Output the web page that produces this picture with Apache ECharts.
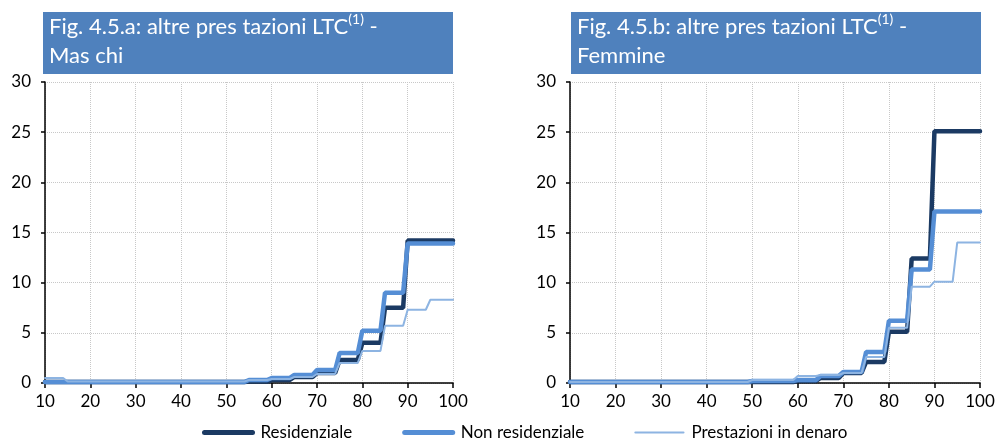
<!DOCTYPE html>
<html><head><meta charset="utf-8">
<script src="https://cdn.jsdelivr.net/npm/echarts@6/dist/echarts.min.js"></script>
<style>html,body{margin:0;padding:0;background:#fff}#c{width:998px;height:440px}</style>
</head><body><div id="c"></div>
<script>
// Age bands (5-year classes; last class 95-100)
const bandStart = [10,15,20,25,30,35,40,45,50,55,60,65,70,75,80,85,90,95];
const bandEnd   = [14,19,24,29,34,39,44,49,54,59,64,69,74,79,84,89,94,100];
const seriesNames = ['Residenziale','Non residenziale','Prestazioni in denaro'];
const xTicks = [10,20,30,40,50,60,70,80,90,100];
const yTicks = [0,5,10,15,20,25,30];
// Maschi
const resM = [0.1,0.1,0.1,0.1,0.1,0.1,0.1,0.1,0.1,0.15,0.3,0.6,1.0,2.3,4.0,7.5,14.2,14.2];
const nonM = [0.1,0.1,0.1,0.1,0.1,0.1,0.1,0.1,0.1,0.3,0.5,0.8,1.3,3.0,5.2,9.0,13.9,13.9];
const denM = [0.5,0.15,0.15,0.15,0.15,0.15,0.15,0.15,0.15,0.3,0.4,0.6,0.9,2.0,3.2,5.7,7.3,8.3];
// Femmine
const resF = [0.1,0.1,0.1,0.1,0.1,0.1,0.1,0.1,0.1,0.1,0.2,0.5,1.0,2.1,5.1,12.4,25.1,25.1];
const nonF = [0.1,0.1,0.1,0.1,0.1,0.1,0.1,0.1,0.2,0.2,0.3,0.7,1.1,3.1,6.2,11.3,17.1,17.1];
const denF = [0.1,0.1,0.1,0.1,0.1,0.1,0.1,0.1,0.3,0.3,0.7,0.8,1.0,2.6,5.5,9.6,10.1,14.0];

function steps(vals){
  const out=[];
  for(let i=0;i<bandStart.length;i++){ out.push([bandStart[i],vals[i]]); out.push([bandEnd[i],vals[i]]); }
  return out;
}
const colors=['#1B3A63','#558ED5','#8DB4E2'];
const widths=[4.5,4.5,2];
const font='Lato, "Open Sans", sans-serif';

function mkX(idx){return {type:'value',gridIndex:idx,min:10,max:100,interval:10,
  axisLine:{lineStyle:{color:'#000',width:1.5}},
  axisTick:{show:true,length:5,lineStyle:{color:'#000',width:1.5}},
  axisLabel:{color:'#000',fontSize:17,fontFamily:font,margin:10},
  splitLine:{show:true,lineStyle:{color:'#c8c8c8',type:'dotted',width:1}}};}
function mkY(idx){return {type:'value',gridIndex:idx,min:0,max:30,interval:5,
  axisLine:{show:true,lineStyle:{color:'#000',width:1.5}},
  axisTick:{show:true,length:4,lineStyle:{color:'#000',width:1.5}},
  axisLabel:{color:'#000',fontSize:17,fontFamily:font,margin:14},
  splitLine:{show:true,lineStyle:{color:'#c8c8c8',type:'dotted',width:1}}};}
function mkS(name,vals,i,g){return {name:name,type:'line',xAxisIndex:g,yAxisIndex:g,data:steps(vals),
  symbol:'none',lineStyle:{color:colors[i],width:widths[i],cap:'round'},itemStyle:{color:colors[i]},z:2+i,animation:false};}

const chart=echarts.init(document.getElementById('c'),null,{renderer:'canvas'});
function titleGraphic(x,label,sub){
  return [{type:'rect',left:x,top:12,shape:{width:410,height:62},style:{fill:'#4F81BD'},z:1},
    {type:'text',left:x+6,top:12,z:2,style:{
      text:'{a|'+label+'}{s|(1)}{a| -}\n{a|'+sub+'}',
      rich:{a:{fill:'#fff',fontSize:22,fontFamily:font,lineHeight:29},
            s:{fill:'#fff',fontSize:14,fontFamily:font,verticalAlign:'top',lineHeight:29,padding:[0,0,12,0]}}}}];
}
chart.setOption({
  animation:false,
  grid:[{left:45,right:545,top:82,bottom:57},{left:570,right:18,top:82,bottom:57}],
  xAxis:[mkX(0),mkX(1)],
  yAxis:[mkY(0),mkY(1)],
  legend:{data:seriesNames.map((n,i)=>({name:n,lineStyle:{width:i<2?5:2.2,cap:'round'}})),
    left:197,top:419,itemWidth:48,itemHeight:16,itemGap:50,
    itemStyle:{opacity:0},
    textStyle:{color:'#000',fontSize:17,fontFamily:font,padding:[0,0,0,3]}},
  graphic:titleGraphic(43,'Fig. 4.5.a: altre pres tazioni LTC','Mas chi').concat(
          titleGraphic(571,'Fig. 4.5.b: altre pres tazioni LTC','Femmine')),
  series:[mkS(seriesNames[0],resM,0,0),mkS(seriesNames[1],nonM,1,0),mkS(seriesNames[2],denM,2,0),
          mkS(seriesNames[0],resF,0,1),mkS(seriesNames[1],nonF,1,1),mkS(seriesNames[2],denF,2,1)]
});
</script></body></html>
